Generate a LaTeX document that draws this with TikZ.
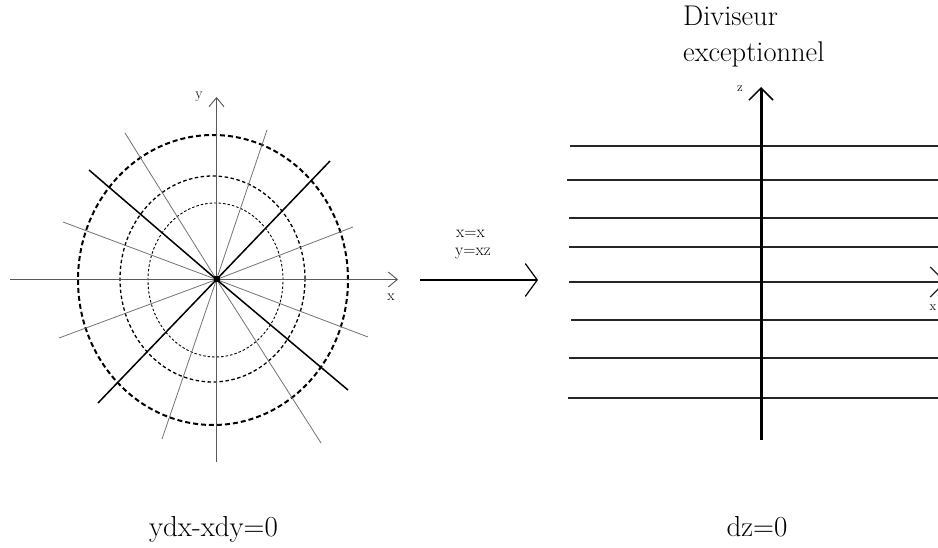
\documentclass[tikz,border=0pt]{standalone}
\usetikzlibrary{arrows.meta}
\begin{document}
\begin{tikzpicture}[x=1pt,y=-1pt,
  thinray/.style={draw=black!55,line width=0.8pt},
  thickray/.style={draw=black,line width=1.5pt},
  axisline/.style={draw=black!65,line width=0.9pt},
  leaf/.style={draw=black!85,line width=1.4pt},
  outerring/.style={draw=black,line width=2pt,dash pattern=on 5pt off 3pt},
  midring/.style={draw=black,line width=1.3pt,dash pattern=on 3.5pt off 2.5pt},
  innerring/.style={draw=black,line width=0.9pt,dash pattern=on 2.5pt off 2pt},
  lbl/.style={inner sep=0pt,anchor=base},
  smallarrow/.style={-{Straight Barb[length=9pt,width=15pt,line width=0.9pt]}},
  maparrow/.style={-{Straight Barb[length=12pt,width=33pt,line width=1.2pt]}},
  zarrow/.style={-{Straight Barb[length=12pt,width=24pt,line width=1.5pt]}}
]
\clip (0,0) rectangle (938,548);
\fill[white] (0,0) rectangle (938,548);

% ---------- left picture ----------
\coordinate (O) at (216.5,279.5);
% rings
\draw[outerring] (213,280) ellipse [x radius=135pt, y radius=145pt];
\draw[midring] (212.5,279) ellipse [x radius=92.5pt, y radius=103pt];
\draw[innerring] (215.5,280) ellipse [x radius=67.5pt, y radius=77pt];
% thin rays
\coordinate (r1a) at (125,133); \coordinate (r1b) at (321,443);
\coordinate (r2a) at (267,130); \coordinate (r2b) at (162,439);
\coordinate (r3a) at (63,222);  \coordinate (r3b) at (368,337);
\coordinate (r4a) at (353,227); \coordinate (r4b) at (59,338);
\draw[thinray] (r1a) -- (O) -- (r1b);
\draw[thinray] (r2a) -- (O) -- (r2b);
\draw[thinray] (r3a) -- (O) -- (r3b);
\draw[thinray] (r4a) -- (O) -- (r4b);
% thick rays
\coordinate (t1a) at (89,170);  \coordinate (t1b) at (348,390);
\coordinate (t2a) at (330,161); \coordinate (t2b) at (98,403);
\draw[thickray] (t1a) -- (O) -- (t1b);
\draw[thickray] (t2a) -- (O) -- (t2b);
% axes
\coordinate (xl) at (10,279.5);  \coordinate (xr) at (398,279.5);
\coordinate (yb) at (216.5,462); \coordinate (yt) at (216.5,97);
\draw[axisline,smallarrow] (xl) -- (xr);
\draw[axisline,smallarrow] (yb) -- (yt);
\fill[black] (213.5,276.5) rectangle (219.5,282.5);
\node[lbl,font=\fontsize{15}{18}\selectfont] (xlab) at (391,301) {x};
\node[lbl,font=\fontsize{15}{18}\selectfont] (ylab) at (199,99) {y};

% ---------- map arrow ----------
\coordinate (ma) at (420,280); \coordinate (mb) at (538,280);
\draw[line width=1.2pt,maparrow] (ma) -- (mb);
\node[inner sep=0pt,anchor=base west,font=\fontsize{17}{18}\selectfont] (m1) at (456,238) {x=x};
\node[inner sep=0pt,anchor=base west,font=\fontsize{17}{18}\selectfont] (m2) at (455,256) {y=xz};

% ---------- right picture ----------
\foreach \yy/\xx [count=\i] in {146/570,180/567,218/569,247/569,282/569,320/571,358/569,398/568}{
  \coordinate (L\i) at (\xx,\yy);
  \coordinate (R\i) at (960,\yy);
  \draw[leaf] (L\i) -- (R\i);
}
\coordinate (xa) at (946,282);
\draw[leaf,-{Straight Barb[length=15pt,width=30pt,line width=1.2pt]}] (L5) -- (xa);
\node[lbl,font=\fontsize{13}{15}\selectfont] (xlab2) at (933,311) {x};
\coordinate (zb) at (761,440); \coordinate (zt) at (761,87);
\draw[line width=3pt,zarrow] (zb) -- (zt);
\node[lbl,font=\fontsize{13}{15}\selectfont] (zlab) at (740,92) {z};
\node[inner sep=0pt,anchor=base west,font=\fontsize{28.5}{34}\selectfont] (d1) at (683,26) {Diviseur};
\node[inner sep=0pt,anchor=base west,font=\fontsize{28.5}{34}\selectfont] (d2) at (683,62) {exceptionnel};

% ---------- bottom labels ----------
\node[lbl,font=\fontsize{29}{34}\selectfont] (eq1) at (213.5,536) {ydx-xdy=0};
\node[lbl,font=\fontsize{29}{34}\selectfont] (eq2) at (757,536) {dz=0};
\end{tikzpicture}
\end{document}
